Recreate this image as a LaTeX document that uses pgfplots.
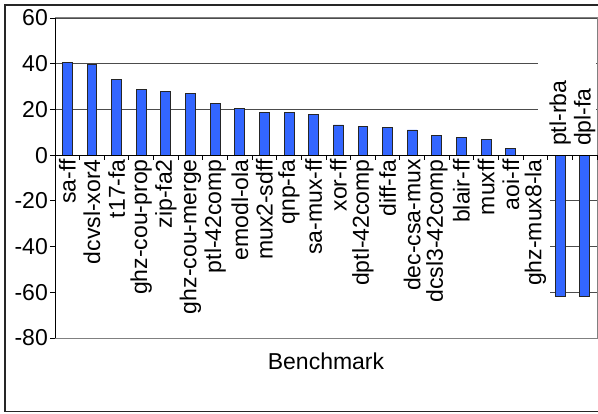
\documentclass[border=0pt]{standalone}
\usepackage{fontspec}
\setmainfont{Liberation Sans}
\usepackage{pgfplots}
\pgfplotsset{compat=1.18}
\definecolor{barblue}{RGB}{51,102,255}
\begin{document}
\fontsize{23bp}{27bp}\selectfont
\begin{tikzpicture}[x=1bp,y=1bp]
\useasboundingbox (0,0) rectangle (598,413);
\draw[black!85, line width=1.3bp] (5,1.5) rectangle (640,408);
\begin{axis}[
  at={(55bp,75bp)}, anchor=south west,
  scale only axis, width=542bp, height=320bp,
  xmin=-0.5, xmax=21.5, ymin=-80, ymax=60,
  xtick=\empty,
  ytick={-80,-60,-40,-20,0,20,40,60},
  yticklabels={-80,-60,-40,-20,0,20,40,60},
  ytick pos=left, tick align=outside, major tick length=5bp,
  tick style={black, line width=0.9bp},
  yticklabel style={inner sep=2bp},
  ymajorgrids, grid style={black!70, line width=0.9bp},
  axis line style={draw=none},
  clip=false,
  every node/.append style={font=\fontsize{24bp}{28bp}\selectfont},
]
% white areas behind category labels (hide grid lines)
\fill[white] (axis cs:-0.45,-0.5) rectangle (axis cs:19.6,-77);
\fill[white] (axis cs:19.1,0.5) rectangle (axis cs:21.45,50);
\addplot[ybar, bar width=0.4, fill=barblue, draw=black!85, line width=0.9bp]
coordinates {
(0,40.7) (1,39.6) (2,33.2) (3,28.8) (4,27.7) (5,26.9) (6,22.7) (7,20.5)
(8,18.8) (9,18.5) (10,17.9) (11,13.2) (12,12.4) (13,12.2) (14,11.0)
(15,8.8) (16,7.9) (17,6.9) (18,2.8) (19,0) (20,-61.7) (21,-62.0)
};
% plot area border
\draw[gray, line width=1bp] (rel axis cs:0,0) rectangle (rel axis cs:1,1);
\draw[black, line width=1bp] (rel axis cs:0,0) -- (rel axis cs:0,1);
% zero line with category ticks
\draw[black, line width=1bp] (axis cs:-0.5,0) -- (axis cs:21.5,0);
\pgfplotsinvokeforeach{-0.5,0.5,...,21.5}{
  \draw[black, line width=0.9bp] (axis cs:#1,0) -- ([yshift=-5bp]axis cs:#1,0);
}
% category labels
\node[rotate=90, anchor=east, inner sep=0pt] at ([yshift=-4bp]axis cs:0,0) {sa-ff};
\node[rotate=90, anchor=east, inner sep=0pt] at ([yshift=-4bp]axis cs:1,0) {dcvsl-xor4};
\node[rotate=90, anchor=east, inner sep=0pt] at ([yshift=-4bp]axis cs:2,0) {t17-fa};
\node[rotate=90, anchor=east, inner sep=0pt] at ([yshift=-4bp]axis cs:3,0) {ghz-cou-prop};
\node[rotate=90, anchor=east, inner sep=0pt] at ([yshift=-4bp]axis cs:4,0) {zip-fa2};
\node[rotate=90, anchor=east, inner sep=0pt] at ([yshift=-4bp]axis cs:5,0) {ghz-cou-merge};
\node[rotate=90, anchor=east, inner sep=0pt] at ([yshift=-4bp]axis cs:6,0) {ptl-42comp};
\node[rotate=90, anchor=east, inner sep=0pt] at ([yshift=-4bp]axis cs:7,0) {emodl-ola};
\node[rotate=90, anchor=east, inner sep=0pt] at ([yshift=-4bp]axis cs:8,0) {mux2-sdff};
\node[rotate=90, anchor=east, inner sep=0pt] at ([yshift=-4bp]axis cs:9,0) {qnp-fa};
\node[rotate=90, anchor=east, inner sep=0pt] at ([yshift=-4bp]axis cs:10,0) {sa-mux-ff};
\node[rotate=90, anchor=east, inner sep=0pt] at ([yshift=-4bp]axis cs:11,0) {xor-ff};
\node[rotate=90, anchor=east, inner sep=0pt] at ([yshift=-4bp]axis cs:12,0) {dptl-42comp};
\node[rotate=90, anchor=east, inner sep=0pt] at ([yshift=-4bp]axis cs:13,0) {diff-fa};
\node[rotate=90, anchor=east, inner sep=0pt] at ([yshift=-4bp]axis cs:14,0) {dec-csa-mux};
\node[rotate=90, anchor=east, inner sep=0pt] at ([yshift=-4bp]axis cs:15,0) {dcsl3-42comp};
\node[rotate=90, anchor=east, inner sep=0pt] at ([yshift=-4bp]axis cs:16,0) {blair-ff};
\node[rotate=90, anchor=east, inner sep=0pt] at ([yshift=-4bp]axis cs:17,0) {muxff};
\node[rotate=90, anchor=east, inner sep=0pt] at ([yshift=-4bp]axis cs:18,0) {aoi-ff};
\node[rotate=90, anchor=east, inner sep=0pt] at ([yshift=-4bp]axis cs:19,0) {ghz-mux8-la};
\node[rotate=90, anchor=west, inner sep=0pt] at ([yshift=9bp]axis cs:20,0) {ptl-rba};
\node[rotate=90, anchor=west, inner sep=0pt] at ([yshift=9bp]axis cs:21,0) {dpl-fa};
\end{axis}
\node[anchor=base] at (326,44) {Benchmark};
\end{tikzpicture}
\end{document}
